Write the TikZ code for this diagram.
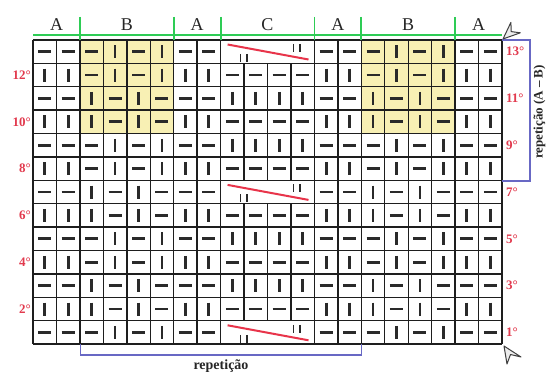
\documentclass[tikz,border=0pt]{standalone}
\usepackage{fontspec}
\setmainfont{Liberation Serif}
\definecolor{gridc}{HTML}{1E1E1E}
\definecolor{symc}{HTML}{2A2A2A}
\definecolor{yel}{HTML}{F8F0B4}
\definecolor{grn}{HTML}{2ECC55}
\definecolor{redl}{HTML}{E23A4E}
\definecolor{blu}{HTML}{6868C4}
\definecolor{cablec}{HTML}{E8344A}
\def\rowP{0,0,0,1,0,1,0,0,2,2,2,2,0,0,0,1,0,1,0,0}
\def\rowQ{1,1,0,1,0,1,1,1,0,0,0,0,1,1,0,1,0,1,1,1}
\def\rowR{0,0,1,0,1,0,0,0,1,1,1,1,0,0,1,0,1,0,0,0}
\def\rowS{1,1,1,0,1,0,1,1,0,0,0,0,1,1,1,0,1,0,1,1}
\def\rowT{0,0,0,1,0,1,0,0,1,1,1,1,0,0,0,1,0,1,0,0}
\def\rowU{0,0,1,0,1,0,0,0,2,2,2,2,0,0,1,0,1,0,0,0}
\tikzset{
  gridline/.style={draw=gridc, line width=1.4pt},
  symline/.style={draw=symc, line width=2.8pt},
  cableline/.style={draw=cablec, line width=2pt},
  twinbar/.style={draw=symc, line width=1.8pt},
  bluebr/.style={draw=blu, line width=1.4pt},
  greenl/.style={draw=grn, line width=1.8pt},
  grplbl/.style={font=\fontsize{18}{18}\selectfont, text=black!85, inner sep=0pt},
  rowlbl/.style={font=\fontsize{13}{13}\selectfont\bfseries, text=redl, inner sep=0pt},
  replbl/.style={font=\fontsize{14}{14}\selectfont\bfseries, text=black!85, inner sep=0pt},
  cursorshape/.style={draw=black!75, fill=gray!15, line width=1pt, line join=round},
}
\begin{document}
\begin{tikzpicture}[x=1pt,y=-1pt]
\useasboundingbox (0,0) rectangle (547,374);
\fill[white] (0,0) rectangle (547,374);
% yellow cells
\fill[yel] (79.9,40) rectangle (173.7,133.6);
\fill[yel] (361.3,40) rectangle (455.1,133.6);
% symbols
\foreach \r/\l in {13/\rowP,12/\rowQ,11/\rowR,10/\rowS,9/\rowT,8/\rowQ,7/\rowU,6/\rowS,5/\rowT,4/\rowQ,3/\rowR,2/\rowS,1/\rowP} {
  \edef\curlist{\l}
  \foreach \s [count=\c from 0] in \curlist {
    \pgfmathsetmacro\cx{33+(\c+0.5)*23.45}
    \pgfmathsetmacro\cy{40+(13-\r+0.5)*23.4}
    \ifnum\s=0 \draw[symline] (\cx-6.5,\cy) -- (\cx+6.5,\cy);\fi
    \ifnum\s=1 \draw[symline] (\cx,\cy-6.5) -- (\cx,\cy+6.5);\fi
  }
}
% grid
\foreach \i in {0,...,13} \draw[gridline] (33,{40+\i*23.4}) -- (502,{40+\i*23.4});
\foreach \k in {0,...,8,12,13,...,20} \draw[gridline] ({33+\k*23.45},40) -- ({33+\k*23.45},344.2);
\foreach \k in {9,10,11} {
  \draw[gridline] ({33+\k*23.45},63.4) -- ({33+\k*23.45},180.4);
  \draw[gridline] ({33+\k*23.45},203.8) -- ({33+\k*23.45},320.8);
}
% cables
\foreach \r in {13,7,1} {
  \pgfmathsetmacro\T{40+(13-\r)*23.4}
  \draw[cableline] (227.6,\T+4.5) -- (308.5,\T+19.5);
  \draw[twinbar] (240.5,\T+14) -- (240.5,\T+22) (247,\T+14) -- (247,\T+22);
  \draw[twinbar] (293.5,\T+4) -- (293.5,\T+12) (300,\T+4) -- (300,\T+12);
}
% green header
\draw[greenl] (33,35) -- (502,35);
\foreach \x in {79.9,173.7,220.6,314.4,361.3,455.1} \draw[greenl] (\x,17) -- (\x,40);
\node[grplbl] (hA1) at (56.5,25) {A};
\node[grplbl] (hB1) at (126.8,25) {B};
\node[grplbl] (hA2) at (197.2,25) {A};
\node[grplbl] (hC) at (267.5,25) {C};
\node[grplbl] (hA3) at (337.9,25) {A};
\node[grplbl] (hB2) at (408.2,25) {B};
\node[grplbl] (hA4) at (478.6,25) {A};
% row labels
\foreach \r in {12,10,...,2} \node[rowlbl,anchor=east] (L\r) at (31,{40+(13-\r+0.5)*23.4}) {\r°};
\foreach \r in {13,11,...,1} \node[rowlbl,anchor=west] (R\r) at (506,{40+(13-\r+0.5)*23.4}) {\r°};
% brackets
\draw[bluebr] (80.5,344.2) -- (80.5,355) -- (361.3,355) -- (361.3,344.2);
\node[replbl] (repB) at (221,366) {repetição};
\draw[bluebr] (502,40) -- (530,40) -- (530,181) -- (502,181);
\node[replbl,font=\fontsize{13}{13}\selectfont\bfseries,rotate=90,anchor=base] (repR) at (542.5,112) {repetição (A – B)};
% cursors
\draw[cursorshape] (503,39) -- (520.3,32.8) -- (511.2,31.6) -- (510.9,22.4) -- cycle;
\draw[cursorshape] (504,346) -- (507,364) -- (510.5,354.5) -- (521,357) -- cycle;
\end{tikzpicture}
\end{document}
